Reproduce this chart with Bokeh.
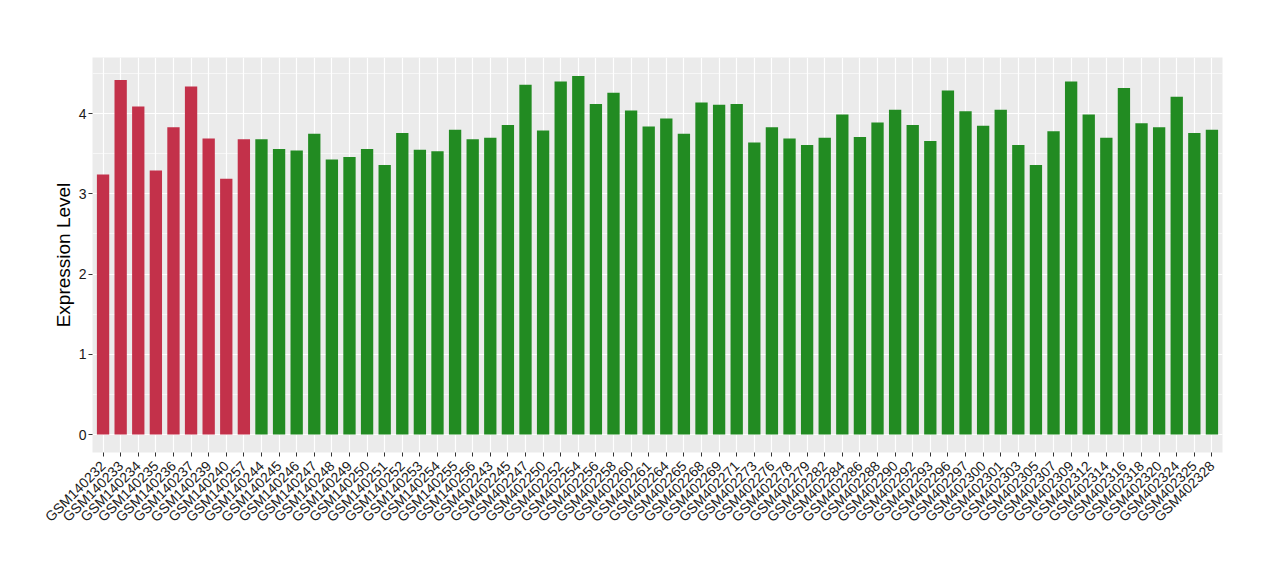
from bokeh.plotting import figure
from bokeh.models import FactorRange, Range1d, SingleIntervalTicker, ColumnDataSource
from bokeh.embed import file_html
from bokeh.resources import INLINE
import math

samples = ["GSM140232", "GSM140233", "GSM140234", "GSM140235", "GSM140236", "GSM140237",
           "GSM140239", "GSM140240", "GSM140257",
           "GSM140244", "GSM140245", "GSM140246", "GSM140247", "GSM140248", "GSM140249",
           "GSM140250", "GSM140251", "GSM140252", "GSM140253", "GSM140254", "GSM140255",
           "GSM140256", "GSM402243", "GSM402245", "GSM402247", "GSM402250", "GSM402252",
           "GSM402254", "GSM402256", "GSM402258", "GSM402260", "GSM402261", "GSM402264",
           "GSM402265", "GSM402268", "GSM402269", "GSM402271", "GSM402273", "GSM402276",
           "GSM402278", "GSM402279", "GSM402282", "GSM402284", "GSM402286", "GSM402288",
           "GSM402290", "GSM402292", "GSM402293", "GSM402296", "GSM402297", "GSM402300",
           "GSM402301", "GSM402303", "GSM402305", "GSM402307", "GSM402309", "GSM402312",
           "GSM402314", "GSM402316", "GSM402318", "GSM402320", "GSM402324", "GSM402325",
           "GSM402328"]

values = [3.24, 4.42, 4.09, 3.29, 3.83, 4.34, 3.69, 3.19, 3.68,
          3.68, 3.56, 3.54, 3.75, 3.43, 3.46, 3.56, 3.36, 3.76, 3.55, 3.53, 3.80,
          3.68, 3.70, 3.86, 4.36, 3.79, 4.40, 4.47, 4.12, 4.26, 4.04, 3.84, 3.94,
          3.75, 4.14, 4.11, 4.12, 3.64, 3.83, 3.69, 3.61, 3.70, 3.99, 3.71, 3.89,
          4.05, 3.86, 3.66, 4.29, 4.03, 3.85, 4.05, 3.61, 3.36, 3.78, 4.40, 3.99,
          3.70, 4.32, 3.88, 3.83, 4.21, 3.76, 3.80]

groups = ["red"] * 9 + ["green"] * 55
group_colors = {"red": "#C3314A", "green": "#228B22"}

colors = [group_colors[g] for g in groups]
src = ColumnDataSource(dict(x=samples, top=values, color=colors))

p = figure(width=1270, height=570, output_backend="svg", toolbar_location=None,
           x_range=FactorRange(factors=samples, range_padding=0.1, range_padding_units="absolute"),
           y_range=Range1d(-0.224, 4.70),
           min_border_left=92, min_border_right=48, min_border_top=57, min_border_bottom=118)

p.vbar(x="x", top="top", width=0.7, fill_color="color", line_color=None, source=src)

p.background_fill_color = "#EBEBEB"
p.outline_line_color = None
p.border_fill_color = "white"

p.yaxis.ticker = SingleIntervalTicker(interval=1, num_minor_ticks=2)
p.ygrid.grid_line_color = "white"
p.ygrid.grid_line_width = 1.2
p.ygrid.minor_grid_line_color = "white"
p.ygrid.minor_grid_line_width = 0.6
p.xgrid.grid_line_color = "white"
p.xgrid.grid_line_width = 1.2

for ax in (p.xaxis, p.yaxis):
    ax.axis_line_color = None
    ax.major_tick_line_color = "#333333"
    ax.major_tick_out = 4
    ax.major_tick_in = 0
    ax.minor_tick_line_color = None
    ax.major_label_text_font = "Liberation Sans"
    ax.major_label_text_font_size = "14px"
    ax.major_label_text_color = "#1A1A1A"
    ax.major_label_standoff = 2

p.xaxis.major_label_orientation = math.pi / 4
p.xaxis.major_label_standoff = 7

p.yaxis.axis_label = "Expression Level"
p.yaxis.axis_label_text_font = "Liberation Sans"
p.yaxis.axis_label_text_font_size = "19px"
p.yaxis.axis_label_text_font_style = "normal"
p.yaxis.axis_label_text_color = "black"
p.yaxis.axis_label_standoff = 2

open("out.html", "w").write(file_html(p, INLINE))
